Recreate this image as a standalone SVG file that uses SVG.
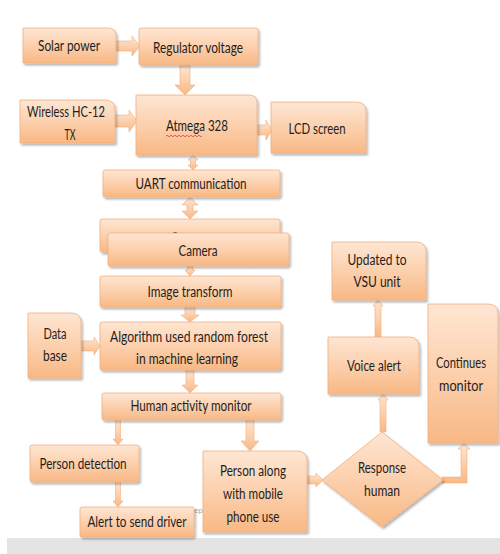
<svg xmlns="http://www.w3.org/2000/svg" width="500" height="554" viewBox="0 0 500 554">
<defs>
<linearGradient id="g" x1="0" y1="0" x2="0" y2="1">
<stop offset="0" stop-color="#fee6d3"/>
<stop offset="0.5" stop-color="#fcd0ad"/>
<stop offset="1" stop-color="#f8b884"/>
</linearGradient>
<filter id="sh" x="-10%" y="-10%" width="125%" height="130%">
<feDropShadow dx="1.5" dy="2" stdDeviation="1.2" flood-color="#000" flood-opacity="0.3"/>
</filter>
<clipPath id="camclip"><rect x="100" y="219" width="180" height="14"/></clipPath>
<style>
.b{fill:url(#g);stroke:#f0b080;stroke-width:0.8;filter:url(#sh)}
.a{fill:url(#g);stroke:#f0b080;stroke-width:0.6}
text{font-family:Lato,"Open Sans","DejaVu Sans",sans-serif;font-size:15.5px;fill:#1e1e1e;text-anchor:middle}
</style>
</defs>
<rect x="0" y="0" width="500" height="554" fill="#ffffff"/>
<rect x="7" y="538" width="493" height="16" fill="#e4e4e4"/>
<g id="connectors">
<path class="a" d="M116,41 L132,41 L132,36 L140,46 L132,56 L132,51 L116,51 Z"/>
<path class="a" d="M180,65 L180,85 L175,85 L185,95 L195,85 L190,85 L190,65 Z"/>
<path class="a" d="M115,115 L129,115 L129,110 L137,121 L129,132 L129,127 L115,127 Z"/>
<path class="a" d="M257,125 L266,125 L266,120 L272,130 L266,140 L266,135 L257,135 Z"/>
<path class="a" d="M193,155 L198,160 L195.5,160 L195.5,165 L198,165 L193,170 L188,165 L190.5,165 L190.5,160 L188,160 Z"/>
<path class="a" d="M190,197 L198,205 L193,205 L193,211 L198,211 L190,219 L182,211 L187,211 L187,205 L182,205 Z"/>
<path class="a" d="M187.5,266 L192.5,266 L192.5,270 L195,270 L190,276 L185,270 L187.5,270 Z"/>
<path class="a" d="M185,307 L185,315 L181,315 L190,322 L199,315 L195,315 L195,307 Z"/>
<path class="a" d="M81,341 L94,341 L94,337 L100,346 L94,355 L94,351 L81,351 Z"/>
<path class="a" d="M186,370 L186,385 L182,385 L190,393 L198,385 L194,385 L194,370 Z"/>
<path class="a" d="M115.5,420 L115.5,439 L113,439 L118,445 L123,439 L120.5,439 L120.5,420 Z"/>
<path class="a" d="M115.5,482 L115.5,501 L113,501 L118,507 L123,501 L120.5,501 L120.5,482 Z"/>
<path class="a" d="M246,420 L246,441 L241,441 L250,451 L259,441 L254,441 L254,420 Z"/>
<path class="a" d="M307,476 L316,476 L316,473 L323,480 L316,487 L316,484 L307,484 Z"/>
<path class="a" d="M380,432 L380,400 L378,400 L383,394 L388,400 L386,400 L386,432 Z"/>
<path class="a" d="M375,337 L375,306 L373,306 L378,300 L383,306 L381,306 L381,337 Z"/>
<path class="a" d="M442,477 L461,477 L461,449 L458,449 L464,443 L470,449 L467,449 L467,483 L442,483 Z"/>
</g>
<g id="solar"><path class="b" d="M23,28 H108 Q116,28 116,36 V63 H23 Z"/><text x="69" y="51" textLength="62" lengthAdjust="spacingAndGlyphs">Solar power</text></g>
<g id="regulator"><rect class="b" x="139" y="28" width="119" height="37" rx="2"/><text x="198" y="53" textLength="90" lengthAdjust="spacingAndGlyphs">Regulator voltage</text></g>
<g id="wireless"><path class="b" d="M20,100 H105 Q115,100 115,110 V143 H20 Z"/><text x="66" y="117" textLength="78" lengthAdjust="spacingAndGlyphs">Wireless HC-12</text><text x="70" y="140" textLength="11" lengthAdjust="spacingAndGlyphs">TX</text></g>
<g id="atmega"><path class="b" d="M136,95 H249 Q257,95 257,103 V155 H136 Z"/><text x="197" y="131" textLength="62" lengthAdjust="spacingAndGlyphs">Atmega 328</text>
<path d="M166,136 q1,-1.5 2,0 t2,0 t2,0 t2,0 t2,0 t2,0 t2,0 t2,0 t2,0 t2,0 t2,0 t2,0 t2,0 t2,0 t2,0 t2,0 t2,0 t2,0" fill="none" stroke="#d03030" stroke-width="0.7"/></g>
<g id="lcd"><path class="b" d="M271,102 H356 Q366,102 366,112 V153 H271 Z"/><text x="317" y="134" textLength="57" lengthAdjust="spacingAndGlyphs">LCD screen</text></g>
<g id="uart"><rect class="b" x="103" y="170" width="177" height="27" rx="2"/><text x="191" y="189" textLength="111" lengthAdjust="spacingAndGlyphs">UART communication</text></g>
<g id="camera-back"><rect class="b" x="100" y="219" width="180" height="33" rx="2"/><text x="190" y="243" textLength="39" lengthAdjust="spacingAndGlyphs" clip-path="url(#camclip)">Camera</text></g>
<g id="camera"><rect class="b" x="108" y="233" width="181" height="33" rx="2"/><text x="198" y="256" textLength="39" lengthAdjust="spacingAndGlyphs">Camera</text></g>
<g id="image"><rect class="b" x="100" y="276" width="181" height="31" rx="2"/><text x="190" y="297" textLength="85" lengthAdjust="spacingAndGlyphs">Image transform</text></g>
<g id="database"><path class="b" d="M28,313 H71 Q81,313 81,323 V378 H28 Z"/><text x="55" y="339" textLength="23" lengthAdjust="spacingAndGlyphs">Data</text><text x="55" y="361" textLength="24" lengthAdjust="spacingAndGlyphs">base</text></g>
<g id="algorithm"><rect class="b" x="100" y="322" width="181" height="48" rx="2"/><text x="189" y="342" textLength="158" lengthAdjust="spacingAndGlyphs">Algorithm used  random forest</text><text x="187" y="364" textLength="102" lengthAdjust="spacingAndGlyphs">in machine learning</text></g>
<g id="human"><rect class="b" x="102" y="393" width="179" height="27" rx="2"/><text x="191" y="411" textLength="121" lengthAdjust="spacingAndGlyphs">Human activity monitor</text></g>
<g id="persondet"><rect class="b" x="30" y="445" width="109" height="37" rx="2"/><text x="83" y="469" textLength="87" lengthAdjust="spacingAndGlyphs">Person detection</text></g>
<text x="194" y="513" style="font-size:8px;fill:#aaaaaa;text-anchor:start">epa</text>
<g id="alert"><rect class="b" x="80" y="507" width="114" height="30" rx="2"/><text x="137" y="527" textLength="99" lengthAdjust="spacingAndGlyphs">Alert to send driver</text></g>
<g id="personmobile"><path class="b" d="M203,451 H297 Q307,451 307,461 V532 H203 Z"/><text x="253" y="476" textLength="66" lengthAdjust="spacingAndGlyphs">Person along</text><text x="253" y="499" textLength="60" lengthAdjust="spacingAndGlyphs">with mobile</text><text x="253" y="522" textLength="53" lengthAdjust="spacingAndGlyphs">phone use</text></g>
<g id="response"><path class="b" d="M382,432 L443,480 L382,527 L322,480 Z"/><text x="382" y="473" textLength="48" lengthAdjust="spacingAndGlyphs">Response</text><text x="382" y="496" textLength="36" lengthAdjust="spacingAndGlyphs">human</text></g>
<g id="voice"><path class="b" d="M328,337 H409 Q419,337 419,347 V394 H328 Z"/><text x="374" y="371" textLength="54" lengthAdjust="spacingAndGlyphs">Voice alert</text></g>
<g id="updated"><path class="b" d="M332,242 H416 Q426,242 426,252 V300 H332 Z"/><text x="377" y="265" textLength="59" lengthAdjust="spacingAndGlyphs">Updated to</text><text x="377" y="287" textLength="47" lengthAdjust="spacingAndGlyphs">VSU unit</text></g>
<g id="continues"><path class="b" d="M428,304 H488 Q498,304 498,314 V443 H428 Z"/><text x="461" y="368" textLength="50" lengthAdjust="spacingAndGlyphs">Continues</text><text x="461" y="391" textLength="44" lengthAdjust="spacingAndGlyphs">monitor</text></g>
</svg>
